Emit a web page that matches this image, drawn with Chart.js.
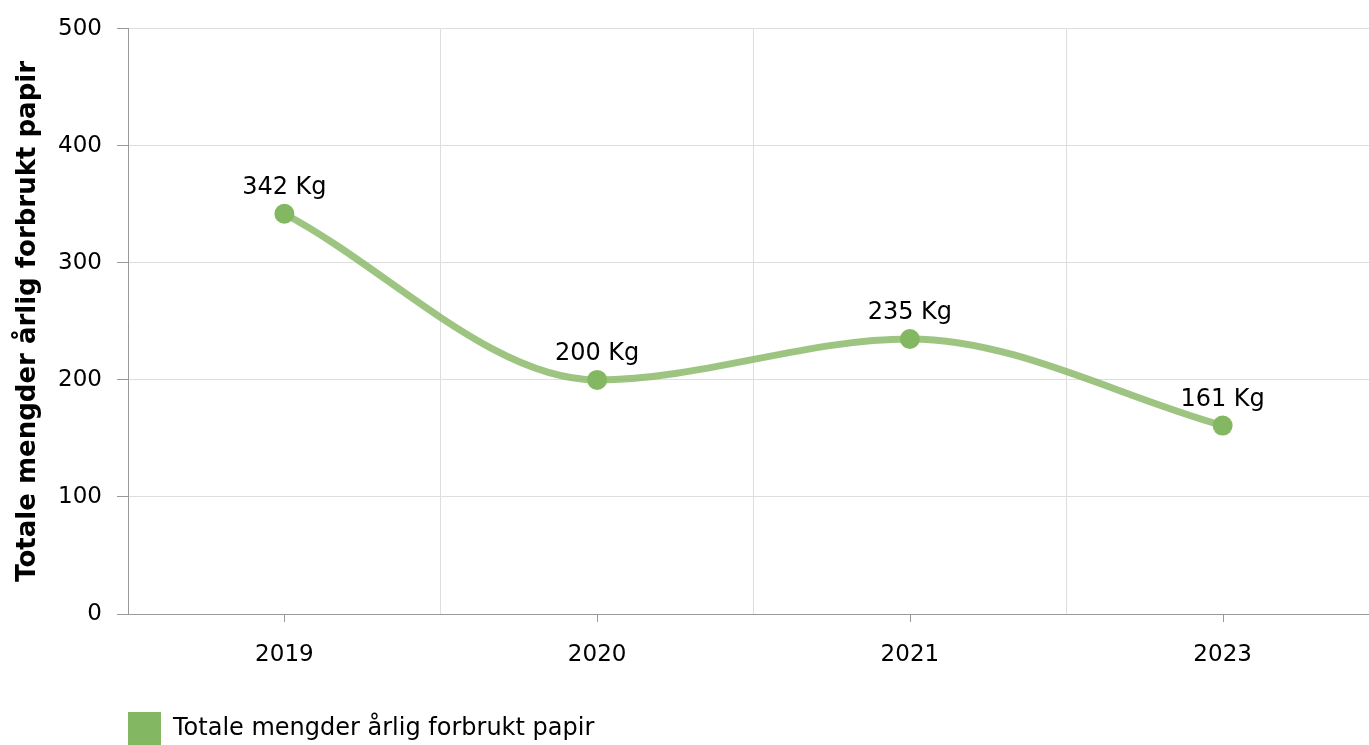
<!DOCTYPE html>
<html>
<head>
<meta charset="utf-8">
<script src="https://cdn.jsdelivr.net/npm/chart.js@4.4.1/dist/chart.umd.min.js"></script>
<style>
  html, body { margin: 0; padding: 0; background: #fff; overflow: hidden; }
  /* the original is a bit wider/taller than the window, so it gets cropped */
  #wrap { position: absolute; left: 0; top: 0; width: 1389px; height: 760px; }
</style>
</head>
<body>
<div id="wrap"><canvas id="paperChart"></canvas></div>
<script>
// data
const years = ["2019", "2020", "2021", "2023"];
const paperKg = [342, 200, 235, 161];
const yTicks = [0, 100, 200, 300, 400, 500];
const seriesName = "Totale mengder årlig forbrukt papir";
const yTitle = "Totale mengder årlig forbrukt papir";
const unit = "Kg";

const FONT = "'DejaVu Sans', Verdana, sans-serif";

// "342 Kg" above each point
const valueLabels = {
  id: "valueLabels",
  afterDatasetsDraw(chart) {
    const ctx = chart.ctx;
    const meta = chart.getDatasetMeta(0);
    ctx.save();
    ctx.font = "24px " + FONT;
    ctx.fillStyle = "#000";
    ctx.textAlign = "center";
    ctx.textBaseline = "alphabetic";
    meta.data.forEach((pt, i) => {
      ctx.fillText(paperKg[i] + " " + unit, pt.x, pt.y - 20);
    });
    ctx.restore();
  }
};

// small tick marks under the x axis at category centres
const xTickMarks = {
  id: "xTickMarks",
  afterDraw(chart) {
    const x = chart.scales.x;
    const ctx = chart.ctx;
    ctx.save();
    ctx.strokeStyle = "#999";
    ctx.lineWidth = 1;
    years.forEach((_, i) => {
      const px = Math.round(x.getPixelForValue(i)) + 0.5;
      ctx.beginPath();
      ctx.moveTo(px, x.top);
      ctx.lineTo(px, x.top + 8);
      ctx.stroke();
    });
    ctx.restore();
  }
};

new Chart(document.getElementById("paperChart"), {
  type: "line",
  data: {
    labels: years,
    datasets: [{
      label: seriesName,
      data: paperKg,
      borderColor: "rgba(132,183,97,0.8)",
      backgroundColor: "#84b761",
      borderWidth: 7,
      cubicInterpolationMode: "monotone",
      pointRadius: 10,
      pointBorderWidth: 0,
      pointBackgroundColor: "#84b761",
      fill: false
    }]
  },
  options: {
    responsive: true,
    maintainAspectRatio: false,
    animation: false,
    layout: { padding: { top: 15, left: 0, right: 0, bottom: 5 } },
    scales: {
      x: {
        offset: true,
        grid: { offset: true, color: "#dedede", drawTicks: false },
        border: { color: "#999" },
        ticks: { color: "#000", font: { family: FONT, size: 23 }, padding: 27 },
        afterFit(s) { s.height = 98; }
      },
      y: {
        min: 0,
        max: 500,
        afterBuildTicks(s) { s.ticks = yTicks.map(v => ({ value: v })); },
        grid: { color: "#dedede", tickColor: "#999", tickLength: 11 },
        border: { color: "#999" },
        ticks: { color: "#000", font: { family: FONT, size: 23 }, padding: 15 },
        title: {
          display: true,
          text: yTitle,
          color: "#000",
          font: { family: FONT, size: 26, weight: "bold" },
          padding: { top: 13, bottom: 0 }
        },
        afterFit(s) { s.width = 128; }
      }
    },
    plugins: {
      legend: {
        position: "bottom",
        align: "start",
        fullSize: false,
        labels: {
          color: "#000",
          font: { family: FONT, size: 24 },
          boxWidth: 33,
          boxHeight: 33,
          padding: 0,
          generateLabels(chart) {
            return [{
              text: seriesName,
              fillStyle: "#84b761",
              strokeStyle: "#84b761",
              lineWidth: 0,
              datasetIndex: 0
            }];
          }
        }
      },
      tooltip: { enabled: false }
    }
  },
  plugins: [valueLabels, xTickMarks]
});
</script>
</body>
</html>
